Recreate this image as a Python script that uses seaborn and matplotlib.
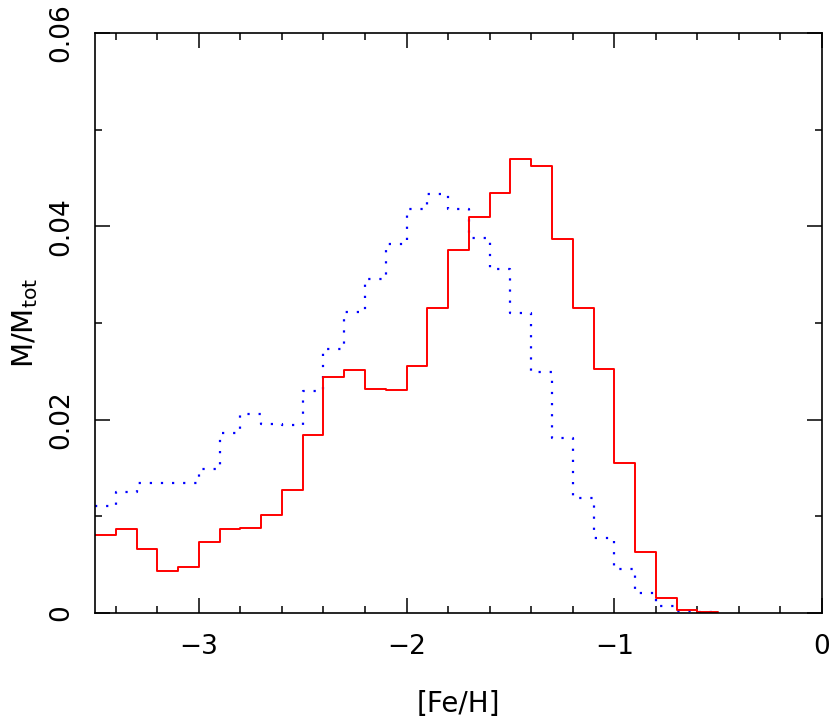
import numpy as np
import matplotlib
matplotlib.use("Agg")
import matplotlib.pyplot as plt
from matplotlib.ticker import MultipleLocator
import pandas as pd
import seaborn as sns

# bin edges, 0.1 dex wide from -3.5 to -0.5
bin_edges = [round(-3.5 + 0.1 * i, 2) for i in range(31)]
bin_centers = [round(e + 0.05, 3) for e in bin_edges[:-1]]

# mass fraction per bin (red solid)
frac_red = [0.0081, 0.0087, 0.0066, 0.0043, 0.0048, 0.0073, 0.0087, 0.0088,
            0.0101, 0.0127, 0.0184, 0.0244, 0.0251, 0.0232, 0.0231, 0.0256,
            0.0315, 0.0376, 0.0410, 0.0434, 0.0470, 0.0462, 0.0387, 0.0316,
            0.0252, 0.0155, 0.0063, 0.0016, 0.0003, 0.0001]
# mass fraction per bin (blue dotted)
frac_blue = [0.0111, 0.0125, 0.0135, 0.0135, 0.0134, 0.0149, 0.0186, 0.0206,
             0.0196, 0.0194, 0.0230, 0.0273, 0.0311, 0.0345, 0.0382, 0.0418,
             0.0433, 0.0418, 0.0388, 0.0356, 0.0310, 0.0249, 0.0181, 0.0119,
             0.0078, 0.0046, 0.0021, 0.0007, 0.0002, 0.0001]

df = pd.DataFrame({"feh": bin_centers, "red": frac_red, "blue": frac_blue})

sns.set_style("ticks")
plt.rcParams['font.family'] = ['DejaVu Sans']
plt.rcParams['text.color'] = 'black'
plt.rcParams['axes.labelcolor'] = 'black'

fig = plt.figure(figsize=(8.3, 7.23), dpi=100)
ax = fig.add_axes([95 / 830, 1 - 613 / 723, 727 / 830, 580 / 723])

sns.histplot(data=df, x="feh", weights="blue", bins=bin_edges, element="step",
             fill=False, color="#0000ff", linestyle=(0, (1, 4)), linewidth=1.6, ax=ax)
sns.histplot(data=df, x="feh", weights="red", bins=bin_edges, element="step",
             fill=False, color="#ff0000", linewidth=1.4, ax=ax)

ax.set_xlim(-3.5, 0)
ax.set_ylim(0, 0.06)
ax.xaxis.set_minor_locator(MultipleLocator(0.2))
ax.yaxis.set_minor_locator(MultipleLocator(0.01))
ax.set_xticks([-3, -2, -1, 0])
ax.set_xticklabels(["\u22123", "\u22122", "\u22121", "0"])
ax.set_yticks([0, 0.02, 0.04, 0.06])
ax.set_yticklabels(["0", "0.02", "0.04", "0.06"])

ax.tick_params(which="both", direction="in", top=True, right=True,
               color="black", width=1.1, labelsize=19, labelcolor="black")
ax.tick_params(which="major", length=10.5)
ax.tick_params(which="minor", length=5.3)
ax.tick_params(axis="x", which="major", pad=15)
ax.tick_params(axis="y", which="major", pad=15)
for lab in ax.get_yticklabels():
    lab.set_rotation(90)
    lab.set_va("center")

for sp in ax.spines.values():
    sp.set_visible(True)
    sp.set_color("black")
    sp.set_linewidth(1.2)

ax.set_xlabel("[Fe/H]", fontsize=20, labelpad=22, color="black")
ax.set_ylabel(r"M/M$_{\rm tot}$", fontsize=21, labelpad=6, color="black")

fig.savefig("out.png", dpi=100)
